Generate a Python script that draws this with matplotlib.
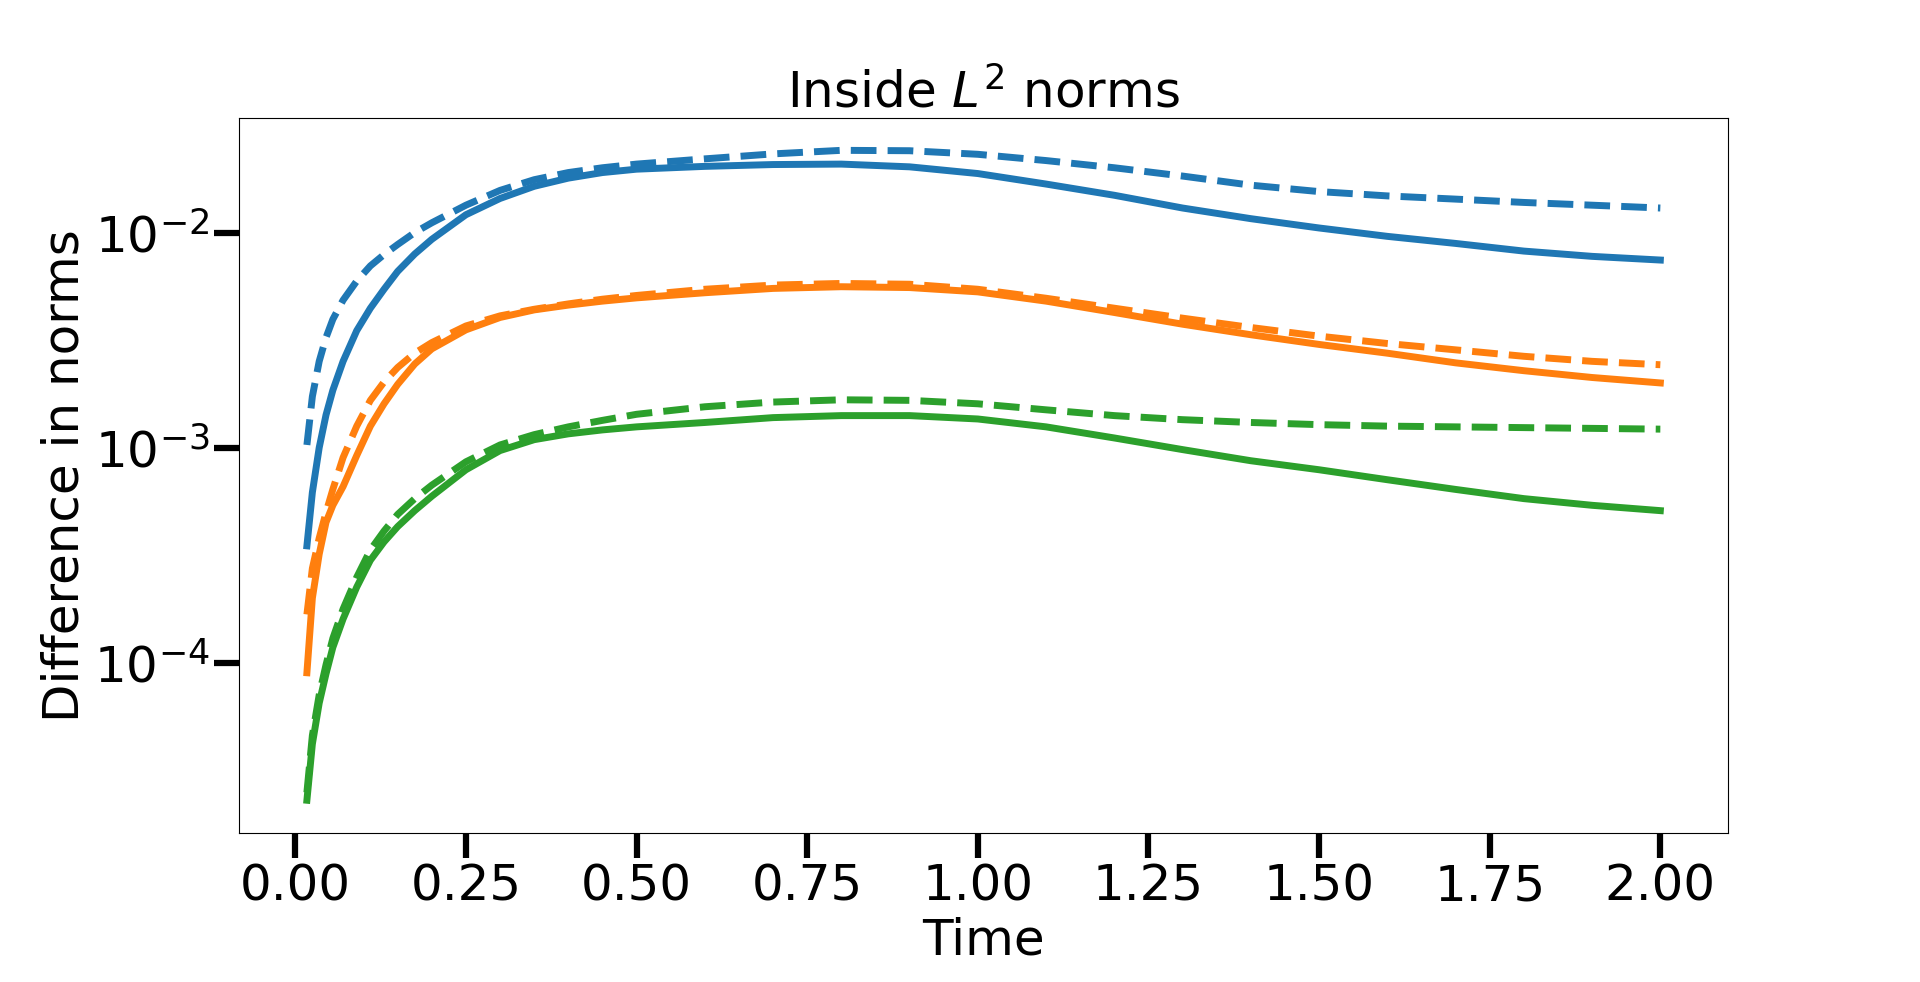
import matplotlib
matplotlib.use("Agg")
import matplotlib.pyplot as plt
from matplotlib.ticker import NullLocator

# time samples
time = [0.017, 0.025, 0.035, 0.045, 0.055, 0.07, 0.09, 0.11, 0.13, 0.15,
        0.175, 0.2, 0.25, 0.3, 0.35, 0.4, 0.45, 0.5, 0.6, 0.7, 0.8, 0.9,
        1.0, 1.1, 1.2, 1.3, 1.4, 1.5, 1.6, 1.7, 1.8, 1.9, 2.0]

blue_solid = [3.5e-4, 6.2e-4, 1.0e-3, 1.42e-3, 1.85e-3, 2.52e-3, 3.5e-3, 4.45e-3, 5.45e-3, 6.6e-3,
              7.95e-3, 9.3e-3, 1.21e-2, 1.44e-2, 1.64e-2, 1.79e-2, 1.9e-2, 1.97e-2, 2.03e-2, 2.07e-2,
              2.08e-2, 2.02e-2, 1.88e-2, 1.68e-2, 1.49e-2, 1.30e-2, 1.16e-2, 1.05e-2, 9.6e-3, 8.9e-3,
              8.2e-3, 7.75e-3, 7.45e-3]
blue_dashed = [1.03e-3, 1.73e-3, 2.52e-3, 3.25e-3, 3.95e-3, 4.85e-3, 5.95e-3, 7.0e-3, 7.9e-3, 8.8e-3,
               1.0e-2, 1.11e-2, 1.34e-2, 1.57e-2, 1.76e-2, 1.9e-2, 2.0e-2, 2.08e-2, 2.2e-2, 2.32e-2,
               2.41e-2, 2.40e-2, 2.31e-2, 2.16e-2, 2.0e-2, 1.83e-2, 1.66e-2, 1.55e-2, 1.48e-2, 1.43e-2,
               1.38e-2, 1.34e-2, 1.30e-2]

orange_solid = [9.0e-5, 2.0e-4, 3.2e-4, 4.5e-4, 5.4e-4, 6.6e-4, 9.2e-4, 1.26e-3, 1.6e-3, 1.97e-3,
                2.45e-3, 2.88e-3, 3.53e-3, 4.03e-3, 4.37e-3, 4.6e-3, 4.8e-3, 4.97e-3, 5.25e-3, 5.5e-3,
                5.6e-3, 5.55e-3, 5.3e-3, 4.8e-3, 4.25e-3, 3.75e-3, 3.35e-3, 3.02e-3, 2.75e-3, 2.48e-3,
                2.28e-3, 2.12e-3, 2.0e-3]
orange_dashed = [1.68e-4, 2.75e-4, 3.8e-4, 5.0e-4, 6.4e-4, 9.0e-4, 1.26e-3, 1.66e-3, 2.02e-3, 2.36e-3,
                 2.75e-3, 3.08e-3, 3.68e-3, 4.1e-3, 4.4e-3, 4.66e-3, 4.9e-3, 5.1e-3, 5.45e-3, 5.7e-3,
                 5.8e-3, 5.75e-3, 5.45e-3, 4.95e-3, 4.45e-3, 4.0e-3, 3.62e-3, 3.3e-3, 3.05e-3, 2.85e-3,
                 2.66e-3, 2.52e-3, 2.43e-3]

green_solid = [2.3e-5, 4.2e-5, 6.5e-5, 8.9e-5, 1.18e-4, 1.6e-4, 2.25e-4, 3.0e-4, 3.65e-4, 4.3e-4,
               5.1e-4, 5.95e-4, 7.9e-4, 9.7e-4, 1.09e-3, 1.16e-3, 1.21e-3, 1.25e-3, 1.31e-3, 1.38e-3,
               1.41e-3, 1.41e-3, 1.36e-3, 1.25e-3, 1.11e-3, 9.8e-4, 8.7e-4, 7.9e-4, 7.1e-4, 6.4e-4,
               5.8e-4, 5.4e-4, 5.1e-4]
green_dashed = [2.5e-5, 4.6e-5, 7.1e-5, 9.8e-5, 1.3e-4, 1.78e-4, 2.5e-4, 3.35e-4, 4.1e-4, 4.9e-4,
                5.8e-4, 6.7e-4, 8.6e-4, 1.03e-3, 1.15e-3, 1.25e-3, 1.34e-3, 1.43e-3, 1.55e-3, 1.63e-3,
                1.67e-3, 1.66e-3, 1.6e-3, 1.5e-3, 1.41e-3, 1.35e-3, 1.31e-3, 1.28e-3, 1.26e-3, 1.25e-3,
                1.24e-3, 1.23e-3, 1.22e-3]

FS = 36
LW = 5

fig, ax = plt.subplots(figsize=(19.2, 9.82), dpi=100)
fig.subplots_adjust(left=0.1246, right=0.9, top=0.88, bottom=0.152)

ax.plot(time, blue_solid, color='C0', lw=LW)
ax.plot(time, blue_dashed, color='C0', lw=LW, ls='--')
ax.plot(time, orange_solid, color='C1', lw=LW)
ax.plot(time, orange_dashed, color='C1', lw=LW, ls='--')
ax.plot(time, green_solid, color='C2', lw=LW)
ax.plot(time, green_dashed, color='C2', lw=LW, ls='--')

ax.set_yscale('log')
ax.yaxis.set_minor_locator(NullLocator())
ax.set_xticks([0.0, 0.25, 0.5, 0.75, 1.0, 1.25, 1.5, 1.75, 2.0])
ax.tick_params(axis='both', which='major', labelsize=FS, length=18, width=4.5)

ax.set_title(r'Inside $L^2$ norms', fontsize=FS)
ax.set_xlabel('Time', fontsize=FS)
ax.set_ylabel('Difference in norms', fontsize=FS)

fig.savefig('out.png', dpi=100)
